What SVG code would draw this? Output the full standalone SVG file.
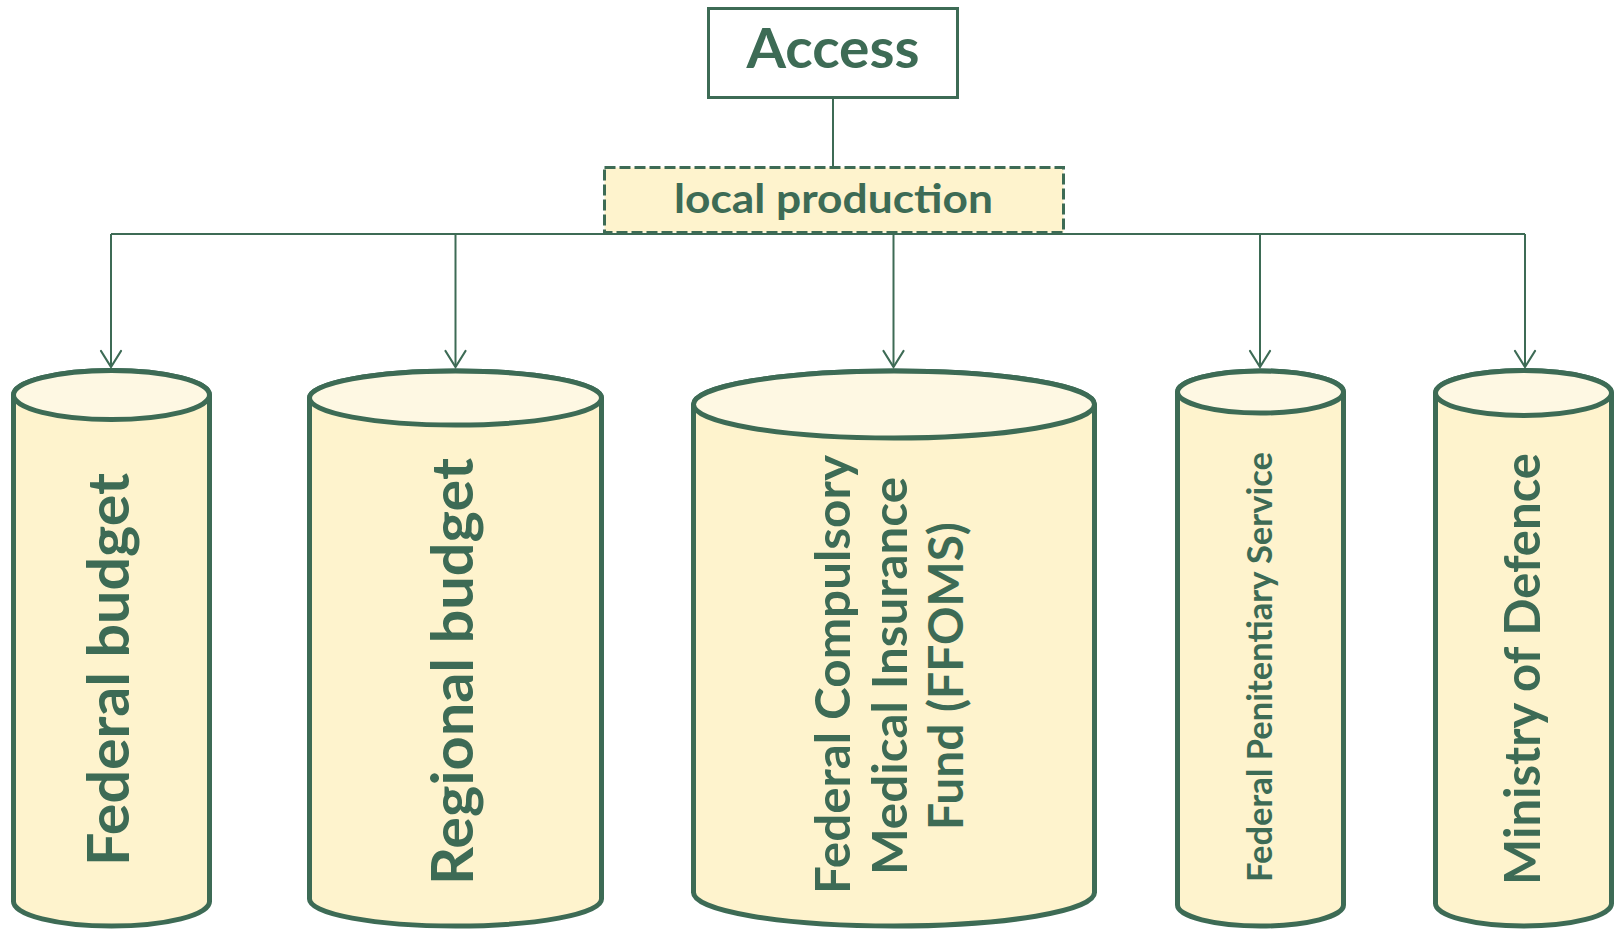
<svg xmlns="http://www.w3.org/2000/svg" width="1616" height="931" viewBox="0 0 1616 931">
<defs>
<style>
.ln{stroke:#3D6B55;stroke-width:2;fill:none}
.ah{stroke:#3D6B55;stroke-width:2.2;fill:none;stroke-linecap:round;stroke-linejoin:miter}
.body{fill:#FEF3CD;stroke:#3D6B55;stroke-width:5}
.top{fill:#FEF8E3;stroke:#3D6B55;stroke-width:5}
.t{font-family:Lato,"Open Sans","Liberation Sans",sans-serif;font-weight:bold;fill:#3D6B55;text-anchor:middle}
</style>
</defs>
<rect width="1616" height="931" fill="#FFFFFF"/>
<g id="connectors">
<line class="ln" x1="833" y1="98" x2="833" y2="167"/>
<line class="ln" x1="111" y1="234" x2="1525" y2="234"/>
<line class="ln" x1="111" y1="234" x2="111" y2="367"/>
<polyline class="ah" points="101,351 111,367 121,351"/>
<line class="ln" x1="455.5" y1="234" x2="455.5" y2="367"/>
<polyline class="ah" points="445.5,351 455.5,367 465.5,351"/>
<line class="ln" x1="893.5" y1="234" x2="893.5" y2="367"/>
<polyline class="ah" points="883.5,351 893.5,367 903.5,351"/>
<line class="ln" x1="1260" y1="234" x2="1260" y2="367"/>
<polyline class="ah" points="1250,351 1260,367 1270,351"/>
<line class="ln" x1="1525" y1="234" x2="1525" y2="367"/>
<polyline class="ah" points="1515,351 1525,367 1535,351"/>
</g>
<g id="access">
<rect x="708.5" y="8.5" width="249" height="89" fill="#FFFFFF" stroke="#3D6B55" stroke-width="3"/>
<text class="t" x="833" y="68" font-size="56" textLength="173" lengthAdjust="spacingAndGlyphs">Access</text>
</g>
<g id="local-production">
<rect x="604.5" y="167.5" width="459" height="65" fill="#FEF3CD" stroke="#3D6B55" stroke-width="3" stroke-dasharray="11,4"/>
<text class="t" x="833.5" y="213" font-size="41" textLength="319" lengthAdjust="spacingAndGlyphs">local production</text>
</g>
<g id="federal-budget">
<path class="body" d="M13.5,395 V901.5 A98,24.5 0 0 0 209.5,901.5 V395 A98,24.5 0 0 0 13.5,395 Z"/>
<ellipse class="top" cx="111.5" cy="395" rx="98" ry="24.5"/>
<text class="t" font-size="57" textLength="393" lengthAdjust="spacingAndGlyphs" transform="translate(129,669.5) rotate(-90)">Federal budget</text>
</g>
<g id="regional-budget">
<path class="body" d="M309.5,398 V899 A146,27 0 0 0 601.5,899 V398 A146,27 0 0 0 309.5,398 Z"/>
<ellipse class="top" cx="455.5" cy="398" rx="146" ry="27"/>
<text class="t" font-size="57" textLength="427" lengthAdjust="spacingAndGlyphs" transform="translate(473,671.5) rotate(-90)">Regional budget</text>
</g>
<g id="ffoms">
<path class="body" d="M693.5,404.5 V892.5 A200.5,33.5 0 0 0 1094.5,892.5 V404.5 A200.5,33.5 0 0 0 693.5,404.5 Z"/>
<ellipse class="top" cx="894" cy="404.5" rx="200.5" ry="33.5"/>
<text class="t" font-size="47" textLength="439" lengthAdjust="spacingAndGlyphs" transform="translate(850,674.5) rotate(-90)">Federal Compulsory</text>
<text class="t" font-size="47" textLength="398" lengthAdjust="spacingAndGlyphs" transform="translate(907,676) rotate(-90)">Medical Insurance</text>
<text class="t" font-size="47" textLength="308" lengthAdjust="spacingAndGlyphs" transform="translate(963,676) rotate(-90)">Fund (FFOMS)</text>
</g>
<g id="federal-penitentiary-service">
<path class="body" d="M1177.5,392 V905 A83,21 0 0 0 1343.5,905 V392 A83,21 0 0 0 1177.5,392 Z"/>
<ellipse class="top" cx="1260.5" cy="392" rx="83" ry="21"/>
<text class="t" font-size="34" textLength="430" lengthAdjust="spacingAndGlyphs" transform="translate(1272,667) rotate(-90)">Federal Penitentiary Service</text>
</g>
<g id="ministry-of-defence">
<path class="body" d="M1435.5,393 V903.5 A88,22.5 0 0 0 1611.5,903.5 V393 A88,22.5 0 0 0 1435.5,393 Z"/>
<ellipse class="top" cx="1523.5" cy="393" rx="88" ry="22.5"/>
<text class="t" font-size="49" textLength="432" lengthAdjust="spacingAndGlyphs" transform="translate(1540,669) rotate(-90)">Ministry of Defence</text>
</g>
</svg>
